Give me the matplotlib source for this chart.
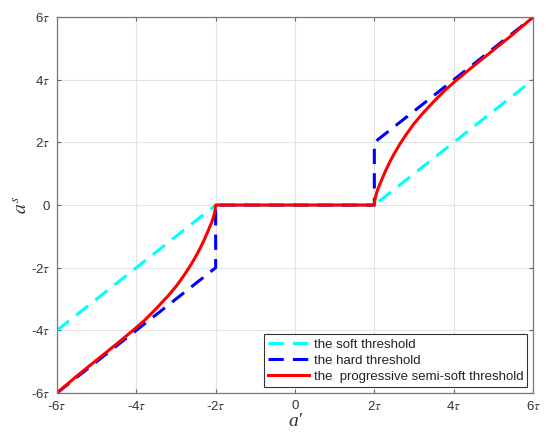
import matplotlib
matplotlib.use("Agg")
import matplotlib.pyplot as plt

plt.rcParams['font.family'] = ['Liberation Sans', 'DejaVu Sans']
plt.rcParams['mathtext.fontset'] = 'stix'

# Soft threshold (cyan dashed)
soft_x = [-6, -2, 2, 6]
soft_y = [-4, 0, 0, 4]

# Hard threshold (blue dashed)
hard_x = [-6, -2, -2, 2, 2, 6]
hard_y = [-6, -2, 0, 0, 2, 6]

# Progressive semi-soft threshold (red solid)
semi_x = [-6.0, -5.5, -5.0, -4.5, -4.1, -3.8, -3.5, -3.2, -3.0, -2.8, -2.65,
          -2.5, -2.4, -2.3, -2.2, -2.15, -2.1, -2.06, -2.03, -2.01, -2.0,
          2.0, 2.01, 2.03, 2.06, 2.1, 2.15, 2.2, 2.3, 2.4, 2.5, 2.65,
          2.8, 3.0, 3.2, 3.5, 3.8, 4.1, 4.5, 5.0, 5.5, 6.0]
semi_y = [-6.0, -5.46, -4.95, -4.44, -4.02, -3.69, -3.31, -2.90, -2.60, -2.25, -1.96,
          -1.64, -1.40, -1.14, -0.85, -0.70, -0.55, -0.40, -0.26, -0.13, 0.0,
          0.0, 0.13, 0.26, 0.40, 0.55, 0.70, 0.85, 1.14, 1.40, 1.64, 1.96,
          2.25, 2.60, 2.90, 3.31, 3.69, 4.02, 4.44, 4.95, 5.46, 6.0]

ticks = [-6, -4, -2, 0, 2, 4, 6]
tick_labels = ['-6$\\tau$', '-4$\\tau$', '-2$\\tau$', '0', '2$\\tau$', '4$\\tau$', '6$\\tau$']

fig = plt.figure(figsize=(5.5, 4.41), dpi=100)
ax = fig.add_axes([0.1036, 0.109, 0.8655, 0.852])

ax.plot(soft_x, soft_y, color='#00FFFF', lw=2.2, dashes=(5, 3), label='the soft threshold')
ax.plot(hard_x, hard_y, color='#0000FF', lw=2.2, dashes=(5, 3), label='the hard threshold')
ax.plot(semi_x, semi_y, color='#FF0000', lw=2.2, label='the  progressive semi-soft threshold')

ax.set_xlim(-6, 6)
ax.set_ylim(-6, 6)
ax.set_xticks(ticks)
ax.set_xticklabels(tick_labels, fontsize=9.5, color='#333333')
ax.set_yticks(ticks)
ax.set_yticklabels(tick_labels, fontsize=9.5, color='#333333')
ax.tick_params(direction='in', length=3, width=0.8, color='#666666',
               top=True, right=True, pad=5)
ax.grid(True, color='#e3e3e3', lw=0.8)
ax.set_axisbelow(True)
for s in ax.spines.values():
    s.set_color('#777777')
    s.set_linewidth(0.9)

ax.set_xlabel("a\u2032", fontsize=14, color='#333333', labelpad=0,
              family=['Liberation Serif', 'DejaVu Serif'], style='italic')
ax.set_ylabel("$a^{s}$", fontsize=14, color='#333333', labelpad=0)

leg = ax.legend(loc='lower right', bbox_to_anchor=(0.988, 0.016), borderaxespad=0,
                fontsize=9.5, fancybox=False, framealpha=1, edgecolor='#333333',
                handlelength=3.1, handletextpad=0.35, labelspacing=0.3,
                borderpad=0.3)
leg.get_frame().set_linewidth(0.8)
for t in leg.get_texts():
    t.set_color('#222222')

fig.savefig('out.png', dpi=100)
